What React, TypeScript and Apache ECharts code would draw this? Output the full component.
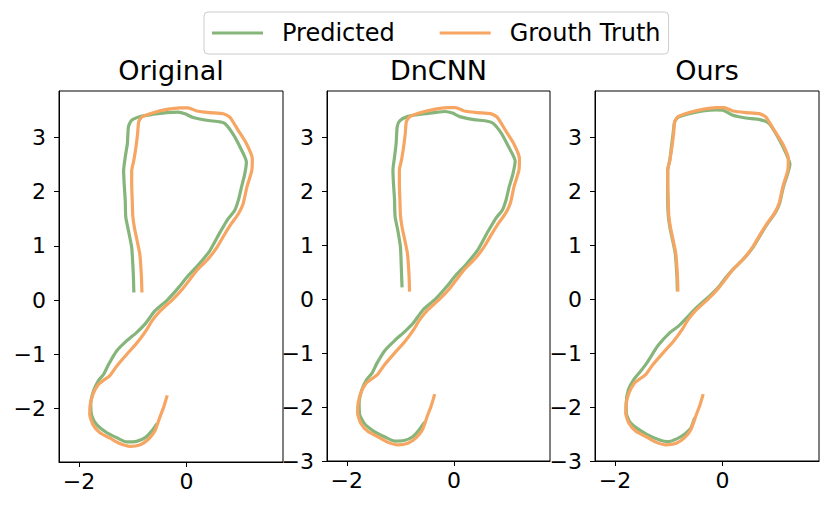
import React, { useEffect, useRef } from "react";
import * as echarts from "echarts";

const TITLES = ["Original", "DnCNN", "Ours"];
const LEGEND_NAMES = ["Predicted", "Grouth Truth"];
const X_TICKS = [-2, 0];
const Y_TICKS_FIRST = [-2, -1, 0, 1, 2, 3];
const Y_TICKS_OTHER = [-3, -2, -1, 0, 1, 2, 3];

const GROUND_TRUTH = [
  [-0.83, 0.14], [-0.84, 0.45], [-0.87, 0.85], [-0.92, 1.1], [-0.97, 1.34], [-1.0, 1.56],
  [-1.01, 1.84], [-1.02, 2.15], [-1.02, 2.39], [-0.98, 2.58], [-0.94, 2.83], [-0.91, 3.07],
  [-0.89, 3.29], [-0.83, 3.38], [-0.62, 3.46], [-0.37, 3.52], [-0.12, 3.55], [0.03, 3.55],
  [0.19, 3.49], [0.43, 3.46], [0.68, 3.44], [0.8, 3.38], [0.96, 3.13], [1.11, 2.89],
  [1.22, 2.61], [1.21, 2.39], [1.12, 2.09], [1.05, 1.78], [0.96, 1.59], [0.83, 1.41],
  [0.71, 1.22], [0.56, 0.97], [0.4, 0.76], [0.2, 0.56], [0.06, 0.38], [-0.08, 0.2],
  [-0.27, 0.0], [-0.49, -0.2], [-0.64, -0.38], [-0.75, -0.56], [-0.92, -0.79], [-1.11, -1.0],
  [-1.3, -1.22], [-1.43, -1.4], [-1.54, -1.48], [-1.64, -1.56], [-1.74, -1.74], [-1.79, -1.93],
  [-1.8, -2.11], [-1.74, -2.3], [-1.61, -2.45], [-1.42, -2.55], [-1.24, -2.65], [-1.05, -2.7],
  [-0.86, -2.67], [-0.71, -2.57], [-0.59, -2.42], [-0.5, -2.17], [-0.43, -1.99], [-0.36, -1.76],
];

const PRED_ORIGINAL = [
  [-0.98, 0.14], [-0.99, 0.48], [-1.02, 0.97], [-1.08, 1.28], [-1.13, 1.53], [-1.14, 1.84],
  [-1.16, 2.15], [-1.17, 2.39], [-1.14, 2.64], [-1.1, 2.89], [-1.08, 3.2], [-1.02, 3.32],
  [-0.86, 3.39], [-0.62, 3.43], [-0.37, 3.46], [-0.16, 3.47], [-0.03, 3.44], [0.12, 3.37],
  [0.37, 3.32], [0.62, 3.29], [0.71, 3.26], [0.86, 3.07], [0.99, 2.83], [1.11, 2.55],
  [1.08, 2.33], [1.02, 2.09], [0.96, 1.84], [0.89, 1.65], [0.77, 1.5], [0.62, 1.25],
  [0.43, 0.91], [0.21, 0.64], [0.02, 0.44], [-0.15, 0.23], [-0.36, 0.0], [-0.59, -0.2],
  [-0.77, -0.44], [-0.93, -0.6], [-1.11, -0.75], [-1.3, -0.94], [-1.45, -1.19], [-1.54, -1.37],
  [-1.64, -1.49], [-1.73, -1.68], [-1.78, -1.93], [-1.76, -2.14], [-1.67, -2.3], [-1.48, -2.45],
  [-1.3, -2.54], [-1.11, -2.62], [-0.93, -2.61], [-0.77, -2.54], [-0.65, -2.42], [-0.55, -2.28],
];

const PRED_DNCNN = [
  [-0.97, 0.22], [-0.98, 0.48], [-1.0, 0.97], [-1.05, 1.28], [-1.1, 1.53], [-1.11, 1.84],
  [-1.13, 2.15], [-1.14, 2.39], [-1.11, 2.64], [-1.08, 2.89], [-1.06, 3.2], [-1.01, 3.31],
  [-0.86, 3.39], [-0.62, 3.43], [-0.37, 3.46], [-0.16, 3.48], [-0.03, 3.45], [0.12, 3.38],
  [0.37, 3.33], [0.62, 3.3], [0.73, 3.26], [0.88, 3.08], [1.01, 2.84], [1.14, 2.56],
  [1.1, 2.33], [1.03, 2.09], [0.97, 1.84], [0.9, 1.65], [0.78, 1.5], [0.63, 1.25],
  [0.44, 0.91], [0.22, 0.64], [0.03, 0.44], [-0.14, 0.23], [-0.35, 0.0], [-0.58, -0.2],
  [-0.76, -0.44], [-0.92, -0.6], [-1.1, -0.76], [-1.29, -0.95], [-1.44, -1.19], [-1.53, -1.37],
  [-1.63, -1.49], [-1.72, -1.68], [-1.77, -1.93], [-1.76, -2.14], [-1.67, -2.31], [-1.48, -2.46],
  [-1.3, -2.55], [-1.11, -2.63], [-0.93, -2.62], [-0.77, -2.55], [-0.65, -2.42], [-0.55, -2.28],
];

const PRED_OURS = [
  [-0.84, 0.15], [-0.85, 0.45], [-0.88, 0.85], [-0.93, 1.1], [-0.98, 1.34], [-1.01, 1.56],
  [-1.02, 1.84], [-1.02, 2.15], [-1.02, 2.39], [-0.98, 2.58], [-0.95, 2.83], [-0.92, 3.07],
  [-0.89, 3.29], [-0.83, 3.37], [-0.62, 3.44], [-0.37, 3.49], [-0.12, 3.51], [0.02, 3.5],
  [0.19, 3.41], [0.43, 3.36], [0.69, 3.33], [0.86, 3.26], [1.03, 3.0], [1.18, 2.7],
  [1.25, 2.5], [1.21, 2.33], [1.13, 2.09], [1.06, 1.78], [0.97, 1.59], [0.84, 1.41],
  [0.72, 1.22], [0.57, 0.97], [0.41, 0.77], [0.21, 0.57], [0.06, 0.4], [-0.08, 0.22],
  [-0.25, 0.05], [-0.51, -0.18], [-0.7, -0.38], [-0.82, -0.5], [-0.98, -0.62], [-1.2, -0.86],
  [-1.4, -1.17], [-1.52, -1.33], [-1.65, -1.49], [-1.75, -1.68], [-1.79, -1.93], [-1.79, -2.11],
  [-1.72, -2.28], [-1.58, -2.4], [-1.4, -2.51], [-1.17, -2.61], [-1.02, -2.64], [-0.85, -2.59],
  [-0.69, -2.49], [-0.59, -2.39], [-0.52, -2.2],
];

const PREDICTIONS = [PRED_ORIGINAL, PRED_DNCNN, PRED_OURS];

const FONT = "DejaVu Sans";
const GREEN = "#86B57B";
const ORANGE = "#F6A562";

const GRIDS = [
  { left: 59, top: 91, width: 224, height: 371 },
  { left: 327, top: 91, width: 223, height: 370 },
  { left: 595, top: 91, width: 224, height: 370 },
];

const fmt = (v: number) => (v < 0 ? "\u2212" + Math.abs(v) : String(v));

export default function App() {
  const ref = useRef<HTMLDivElement>(null);
  useEffect(() => {
    if (!ref.current) return;
    const chart = echarts.init(ref.current, null, { renderer: "svg" });
    const grid = GRIDS.map((g) => ({
      ...g,
      show: true,
      borderColor: "#000",
      borderWidth: 1,
      backgroundColor: "transparent",
      containLabel: false,
    }));
    const xAxis = GRIDS.map((_, i) => ({
      type: "value",
      gridIndex: i,
      min: -2.37,
      max: 1.79,
      splitLine: { show: false },
      axisLine: { show: true, onZero: false, lineStyle: { color: "#000", width: 1 } },
      axisTick: { show: true, length: 5, customValues: X_TICKS, lineStyle: { color: "#000" } },
      axisLabel: {
        customValues: X_TICKS,
        formatter: fmt,
        fontFamily: FONT,
        fontSize: 22,
        color: "#000",
        margin: 8,
      },
    }));
    const yAxis = GRIDS.map((_, i) => {
      const ticks = i === 0 ? Y_TICKS_FIRST : Y_TICKS_OTHER;
      return {
        type: "value",
        gridIndex: i,
        min: i === 0 ? -2.99 : -3,
        max: 3.86,
        splitLine: { show: false },
        axisLine: { show: true, onZero: false, lineStyle: { color: "#000", width: 1 } },
        axisTick: { show: true, length: 5, customValues: ticks, lineStyle: { color: "#000" } },
        axisLabel: {
          customValues: ticks,
          formatter: fmt,
          fontFamily: FONT,
          fontSize: 22,
          color: "#000",
          margin: 13,
        },
      };
    });
    const series: any[] = [];
    GRIDS.forEach((_, i) => {
      series.push({
        type: "line",
        name: LEGEND_NAMES[0],
        xAxisIndex: i,
        yAxisIndex: i,
        data: PREDICTIONS[i],
        showSymbol: false,
        symbol: "none",
        smooth: 0.2,
        color: GREEN,
        lineStyle: { color: GREEN, width: 3.2 },
      });
      series.push({
        type: "line",
        name: LEGEND_NAMES[1],
        xAxisIndex: i,
        yAxisIndex: i,
        data: GROUND_TRUTH,
        showSymbol: false,
        symbol: "none",
        smooth: 0.2,
        color: ORANGE,
        lineStyle: { color: ORANGE, width: 3.2 },
      });
    });
    chart.setOption({
      animation: false,
      title: TITLES.map((t, i) => ({
        text: t,
        left: GRIDS[i].left + GRIDS[i].width / 2,
        top: 57,
        textAlign: "center",
        padding: 0,
        textStyle: { fontFamily: FONT, fontSize: 27, fontWeight: "normal", color: "#000" },
      })),
      legend: {
        left: 204,
        top: 12,
        orient: "horizontal",
        data: LEGEND_NAMES.map((n) => ({ name: n, icon: "rect" })),
        itemWidth: 51,
        itemHeight: 3,
        itemGap: 45,
        padding: [9, 8, 9, 8],
        borderColor: "#cccccc",
        borderWidth: 1,
        borderRadius: 4,
        backgroundColor: "#fff",
        selectedMode: false,
        textStyle: {
          fontFamily: FONT,
          fontSize: 24,
          color: "#000",
          lineHeight: 24,
          padding: [0, 0, 0, 14],
        },
      },
      grid,
      xAxis,
      yAxis,
      series,
    });
    return () => chart.dispose();
  }, []);
  return (
    <div
      ref={ref}
      style={{ position: "fixed", left: 0, top: 0, width: 831, height: 509, background: "#fff" }}
    />
  );
}
